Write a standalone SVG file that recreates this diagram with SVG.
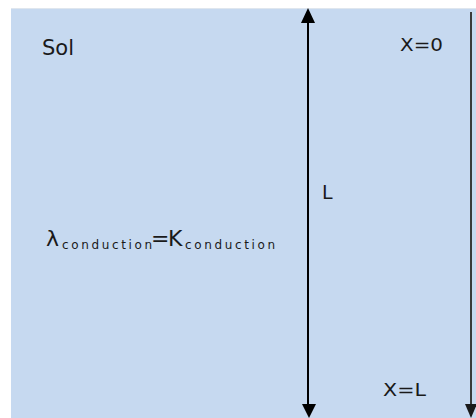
<svg xmlns="http://www.w3.org/2000/svg" width="476" height="418" viewBox="0 0 476 418">
<defs>
<style>
.t{font-family:"DejaVu Sans","Liberation Sans",sans-serif;fill:#1a1a1a}
.sub{font-family:"DejaVu Sans","Liberation Sans",sans-serif;fill:#1a1a1a;font-size:12px}
.ln{stroke:#000;stroke-width:2;fill:none}
</style>
</defs>
<g id="soil">
<rect x="11" y="9" width="465" height="409" fill="#c6d9f0"/>
<line x1="11" y1="8.5" x2="476" y2="8.5" stroke="#dfe6ee" stroke-width="1"/>
</g>
<g id="labels">
<text class="t" x="42" y="55" font-size="21">Sol</text>
<text class="t" x="400" y="51" font-size="17" textLength="43" lengthAdjust="spacingAndGlyphs">X=0</text>
<text class="t" x="383" y="396" font-size="17" textLength="43" lengthAdjust="spacingAndGlyphs">X=L</text>
<text class="t" x="322" y="199" font-size="19">L</text>
<text class="t" x="46" y="246" font-size="22">λ</text>
<text class="sub" x="62" y="249" textLength="90" lengthAdjust="spacing">conduction</text>
<text class="t" x="151" y="246" font-size="22">=</text>
<text class="t" x="168" y="246" font-size="22">K</text>
<text class="sub" x="185" y="249" textLength="90" lengthAdjust="spacing">conduction</text>
</g>
<g id="connectors">
<line class="ln" x1="308" y1="20" x2="308" y2="406"/>
<polygon points="308,8 301,23 315,23" fill="#000"/>
<polygon points="309,418 302,404 316,404" fill="#000"/>
<line x1="471" y1="12" x2="471" y2="406" stroke="#3a3a3a" stroke-width="2"/>
<polygon points="471,418 465,404 477,404" fill="#1a1a1a"/>
</g>
</svg>
